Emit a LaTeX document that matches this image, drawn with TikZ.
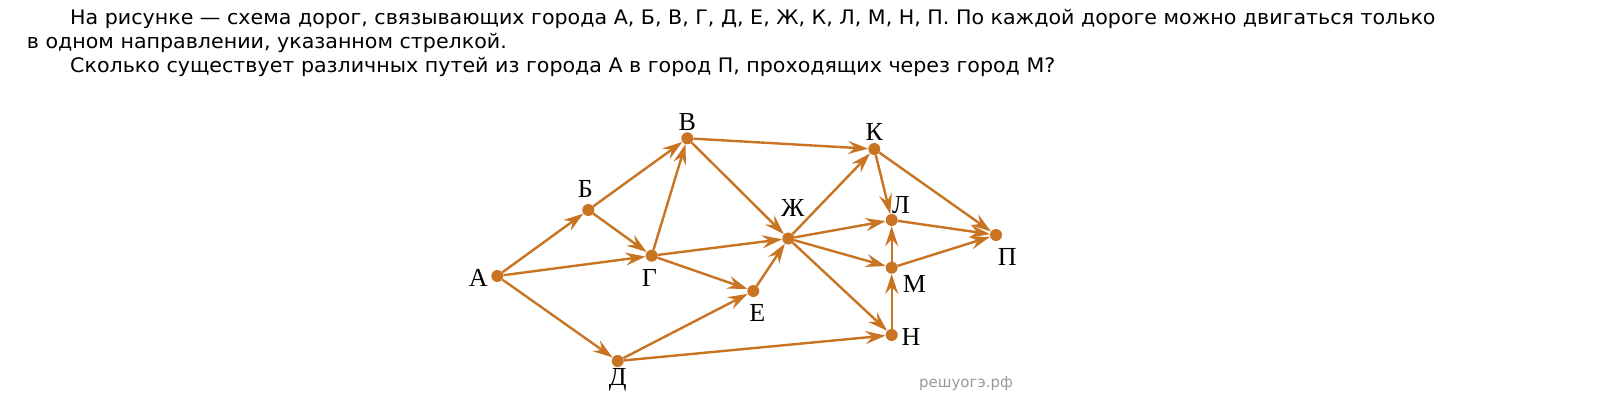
\documentclass[tikz,border=0pt]{standalone}
\usepackage{fontspec}
\setmainfont{Liberation Serif}
\newfontfamily\txtfont[FakeStretch=1.03]{DejaVu Sans}
\newfontfamily\wmfont{DejaVu Sans}
\usetikzlibrary{arrows.meta}
\definecolor{road}{RGB}{200,116,34}
\begin{document}
\begin{tikzpicture}[x=1pt,y=-1pt,
  city/.style={circle,fill=road,inner sep=0pt,minimum size=12pt},
  lbl/.style={font=\fontsize{26}{26}\selectfont,inner sep=0pt},
  txt/.style={font=\txtfont\fontsize{20}{24}\selectfont,anchor=base west,inner sep=0pt},
  road/.style={draw=road,line width=2.4pt,-{Stealth[length=20pt,width=13pt,inset=7pt]}}]
\useasboundingbox[fill=white] (0,0) rectangle (1615,418);
\node[txt] (t1) at (70,24) {На рисунке — схема дорог, связывающих города А, Б, В, Г, Д, Е, Ж, К, Л, М, Н, П. По каждой дороге можно двигаться только};
\node[txt] (t2) at (26.7,48) {в одном направлении, указанном стрелкой.};
\node[txt] (t3) at (70,72.7) {Сколько существует различных путей из города А в город П, проходящих через город М?};
% cities
\node[city] (A) at (497.3,276) {};
\node[city] (B) at (588.3,210) {};
\node[city] (V) at (687.3,138.3) {};
\node[city] (G) at (651.7,255.7) {};
\node[city] (D) at (617.7,361) {};
\node[city] (E) at (753.3,291) {};
\node[city] (Zh) at (788.3,238.5) {};
\node[city] (K) at (874.3,149) {};
\node[city] (L) at (891.7,220) {};
\node[city] (M) at (891.7,267.7) {};
\node[city] (N) at (891.7,335) {};
\node[city] (P) at (996,235) {};
% labels
\node[lbl] (lA) at (478.3,278.3) {А};
\node[lbl] (lB) at (585.3,188.7) {Б};
\node[lbl] (lV) at (687.3,121.7) {В};
\node[lbl] (lG) at (649.3,277.7) {Г};
\node[lbl] (lD) at (617.7,380) {Д};
\node[lbl] (lE) at (757.3,313.3) {Е};
\node[lbl] (lZh) at (792.7,208.3) {Ж};
\node[lbl] (lK) at (874.3,131.7) {К};
\node[lbl] (lL) at (901,205) {Л};
\node[lbl] (lM) at (914.3,284.3) {М};
\node[lbl] (lN) at (911,337.3) {Н};
\node[lbl] (lP) at (1007.3,256.7) {П};
% roads
\path[road] (A) -- (B);
\path[road] (A) -- (G);
\path[road] (A) -- (D);
\path[road] (B) -- (V);
\path[road] (B) -- (G);
\path[road] (G) -- (V);
\path[road] (G) -- (Zh);
\path[road] (G) -- (E);
\path[road] (D) -- (E);
\path[road] (D) -- (N);
\path[road] (E) -- (Zh);
\path[road] (V) -- (K);
\path[road] (V) -- (Zh);
\path[road] (Zh) -- (K);
\path[road] (Zh) -- (L);
\path[road] (Zh) -- (M);
\path[road] (Zh) -- (N);
\path[road] (K) -- (L);
\path[road] (K) -- (P);
\path[road] (L) -- (P);
\path[road] (M) -- (L);
\path[road] (M) -- (P);
\path[road] (N) -- (M);
% watermark
\node[font=\wmfont\fontsize{15}{15}\selectfont,text=black!40,inner sep=0pt] (wm) at (966,384) {решуогэ.рф};
\end{tikzpicture}
\end{document}
